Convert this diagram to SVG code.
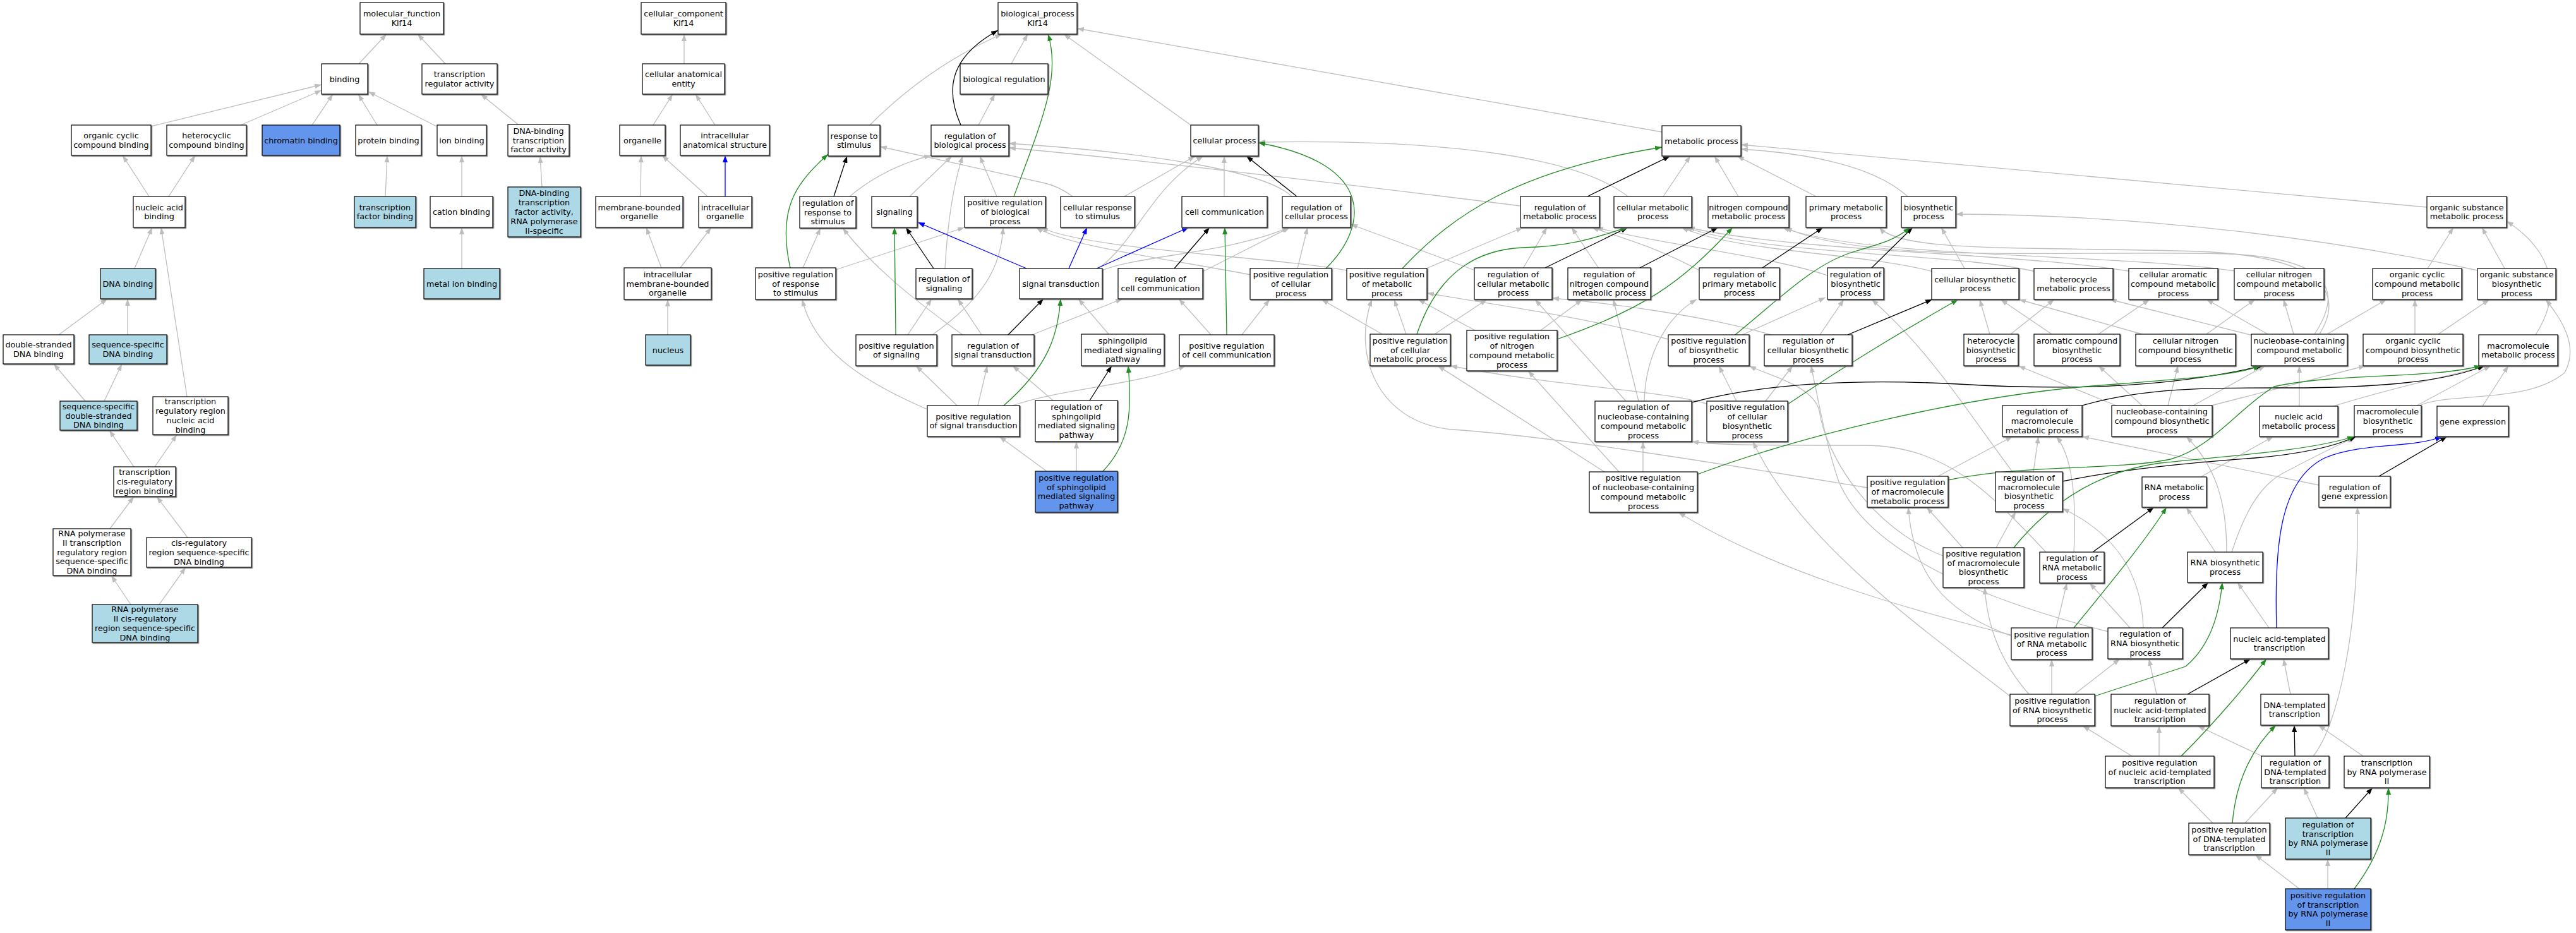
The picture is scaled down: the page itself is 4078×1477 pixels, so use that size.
<svg xmlns="http://www.w3.org/2000/svg" width="4078" height="1477" viewBox="0 0 4078 1477">
<defs>
<style>
text{font-family:"DejaVu Sans","Liberation Sans",sans-serif;font-size:12.8px;text-anchor:middle;fill:#000}
.n rect{fill:#fff;stroke:#000;stroke-width:1.2;filter:url(#sh)}
.n.lb rect{fill:#add8e6}
.n.bl rect{fill:#6495ed}
.e path{fill:none;stroke-width:1.3}
.g{stroke:#bebebe;marker-end:url(#mg)}
.k{stroke:#000;marker-end:url(#mk)}
.v{stroke:#228b22;marker-end:url(#mv)}
.b{stroke:#0000ff;marker-end:url(#mb)}
</style>
<filter id="sh" x="-5%" y="-5%" width="115%" height="120%"><feDropShadow dx="1.3" dy="1.3" stdDeviation="0" flood-color="#606060"/></filter>
<marker id="mg" viewBox="0 0 11 8" refX="11" refY="4" markerWidth="11" markerHeight="8" markerUnits="userSpaceOnUse" orient="auto"><path d="M0,0 L11,4 L0,8 z" fill="#bebebe"/></marker>
<marker id="mk" viewBox="0 0 11 8" refX="11" refY="4" markerWidth="11" markerHeight="8" markerUnits="userSpaceOnUse" orient="auto"><path d="M0,0 L11,4 L0,8 z" fill="#000"/></marker>
<marker id="mv" viewBox="0 0 11 8" refX="11" refY="4" markerWidth="11" markerHeight="8" markerUnits="userSpaceOnUse" orient="auto"><path d="M0,0 L11,4 L0,8 z" fill="#228b22"/></marker>
<marker id="mb" viewBox="0 0 11 8" refX="11" refY="4" markerWidth="11" markerHeight="8" markerUnits="userSpaceOnUse" orient="auto"><path d="M0,0 L11,4 L0,8 z" fill="#0000ff"/></marker>
</defs>
<rect x="0" y="0" width="4078" height="1477" fill="#fff"/>
<g id="edges" class="e">
<path class="g" d="M568,101 L612,54"/>
<path class="g" d="M705,101 L661,54"/>
<path class="g" d="M239,200 L509,134"/>
<path class="g" d="M381,198 L509,143"/>
<path class="g" d="M494,198 L527,149"/>
<path class="g" d="M597,198 L567,149"/>
<path class="g" d="M691,200 L583,145"/>
<path class="g" d="M820,197 L761,149"/>
<path class="g" d="M236,311 L194,246"/>
<path class="g" d="M267,311 L309,246"/>
<path class="g" d="M610,311 L613,246"/>
<path class="g" d="M731,311 L731,246"/>
<path class="g" d="M858,296 L855,247"/>
<path class="g" d="M213,425 L241,360"/>
<path class="g" d="M731,425 L731,360"/>
<path class="g" d="M296,628 L255,360"/>
<path class="g" d="M93,530 L170,473"/>
<path class="g" d="M202,530 L202,473"/>
<path class="g" d="M135,635 L85,576"/>
<path class="g" d="M165,635 L193,576"/>
<path class="g" d="M212,739 L173,681"/>
<path class="g" d="M245,739 L280,688"/>
<path class="g" d="M174,837 L212,786"/>
<path class="g" d="M297,851 L248,786"/>
<path class="g" d="M207,957 L176,911"/>
<path class="g" d="M252,957 L294,898"/>
<path class="g" d="M1083,101 L1083,54"/>
<path class="g" d="M1034,198 L1065,149"/>
<path class="g" d="M1132,198 L1101,149"/>
<path class="g" d="M1014,311 L1015,246"/>
<path class="g" d="M1120,311 L1048,246"/>
<path class="b" d="M1148,311 L1148,246"/>
<path class="g" d="M1047,424 L1023,360"/>
<path class="g" d="M1077,424 L1126,360"/>
<path class="g" d="M1057,530 L1057,474"/>
<path class="g" d="M1601,101 L1627,54"/>
<path class="g" d="M1549,198 L1575,149"/>
<path class="g" d="M1377,198 Q1470,105 1586,54"/>
<path class="g" d="M1885,198 L1684,54"/>
<path class="g" d="M2631,209 L1705,45"/>
<path class="g" d="M1345,311 Q1400,265 1474,246"/>
<path class="g" d="M1271,424 L1299,361"/>
<path class="g" d="M1323,427 L1527,360"/>
<path class="g" d="M1440,311 L1507,247"/>
<path class="g" d="M1496,425 C1500,350 1510,290 1524,247"/>
<path class="g" d="M1578,311 L1551,247"/>
<path class="g" d="M1698,311 Q1675,294 1650,289 L1393,232"/>
<path class="g" d="M2045,311 C2000,268 1800,240 1597,227"/>
<path class="g" d="M2407,326 C2200,300 1800,252 1597,234"/>
<path class="g" d="M2577,311 C2500,250 2300,220 1992,225"/>
<path class="g" d="M1780,311 L1892,247"/>
<path class="g" d="M1739,425 C1800,380 1820,300 1905,247"/>
<path class="g" d="M1938,311 L1938,247"/>
<path class="g" d="M1476,530 C1560,470 1585,420 1588,360"/>
<path class="g" d="M1980,435 C1850,410 1690,390 1640,360"/>
<path class="g" d="M2132,428 C2000,405 1720,395 1648,360"/>
<path class="g" d="M1745,428 C1800,405 1950,400 2040,360"/>
<path class="g" d="M1904,430 L2042,360"/>
<path class="g" d="M2054,425 L2070,360"/>
<path class="g" d="M1524,530 C1440,470 1380,420 1334,361"/>
<path class="g" d="M1437,530 L1475,473"/>
<path class="g" d="M1554,530 L1516,473"/>
<path class="g" d="M1756,530 L1707,473"/>
<path class="g" d="M1634,530 L1777,473"/>
<path class="g" d="M1917,530 L1866,473"/>
<path class="g" d="M1966,530 L2010,474"/>
<path class="g" d="M1515,642 L1450,579"/>
<path class="g" d="M1548,642 L1563,579"/>
<path class="g" d="M1603,642 C1680,615 1800,610 1877,579"/>
<path class="g" d="M1468,648 C1380,610 1290,560 1270,474"/>
<path class="g" d="M1657,746 L1582,691"/>
<path class="g" d="M1704,746 L1704,699"/>
<path class="g" d="M1667,634 L1603,579"/>
<path class="g" d="M2335,428 L2138,355"/>
<path class="g" d="M2633,311 L2676,247"/>
<path class="g" d="M2752,311 L2714,247"/>
<path class="g" d="M2875,311 L2750,247"/>
<path class="g" d="M3020,311 C2980,275 2900,245 2756,236"/>
<path class="g" d="M3842,328 L2756,229"/>
<path class="g" d="M2411,425 L2449,360"/>
<path class="g" d="M2258,425 L2411,360"/>
<path class="g" d="M2531,425 L2488,360"/>
<path class="g" d="M2690,428 C2620,390 2570,378 2520,360"/>
<path class="g" d="M2893,436 C2800,405 2620,385 2527,360"/>
<path class="g" d="M3060,430 C2950,400 2750,400 2662,360"/>
<path class="g" d="M3222,430 C3100,400 2800,405 2668,360"/>
<path class="g" d="M3375,430 C3200,400 2850,400 2672,360"/>
<path class="g" d="M3545,430 C3350,400 2950,410 2822,360"/>
<path class="g" d="M3664,529 C3710,460 3690,410 3530,402 C3300,395 2950,420 2826,360"/>
<path class="g" d="M3672,529 C3720,450 3650,405 3480,398 C3200,390 3010,400 2975,360"/>
<path class="g" d="M2271,529 L2354,474"/>
<path class="g" d="M2226,529 L2207,474"/>
<path class="g" d="M2188,529 L2092,474"/>
<path class="g" d="M2439,523 L2505,474"/>
<path class="g" d="M2335,523 L2245,474"/>
<path class="g" d="M2594,635 L2554,474"/>
<path class="g" d="M2574,635 L2430,474"/>
<path class="g" d="M2603,635 C2605,560 2640,500 2686,474"/>
<path class="g" d="M2758,530 L2890,471"/>
<path class="g" d="M2641,537 C2500,500 2350,480 2259,464"/>
<path class="g" d="M2881,530 L2919,474"/>
<path class="g" d="M2804,530 C2700,500 2550,480 2457,472"/>
<path class="g" d="M2749,635 L2721,579"/>
<path class="g" d="M2795,635 L2838,579"/>
<path class="g" d="M2703,640 C2650,620 2450,610 2296,579"/>
<path class="g" d="M2601,747 L2601,699"/>
<path class="g" d="M2563,747 L2419,587"/>
<path class="g" d="M2540,747 L2276,579"/>
<path class="g" d="M2956,772 C2700,730 2450,690 2300,680 C2180,670 2140,560 2172,474"/>
<path class="g" d="M3068,754 L3186,691"/>
<path class="g" d="M3219,747 L3227,691"/>
<path class="g" d="M3186,747 C3120,660 3060,560 2963,474"/>
<path class="g" d="M3107,867 L3050,803"/>
<path class="g" d="M3160,867 L3191,810"/>
<path class="g" d="M3076,880 C2960,835 2890,720 2880,650 C2870,610 2800,595 2769,579"/>
<path class="g" d="M3283,874 C3288,790 3280,720 3255,691"/>
<path class="g" d="M3239,874 C3150,780 3080,705 2950,705 C2800,705 2720,705 2678,699"/>
<path class="g" d="M3255,994 L3272,923"/>
<path class="g" d="M3184,1007 C3100,975 3030,930 3021,803"/>
<path class="g" d="M3183,1005 C3000,960 2800,900 2657,811"/>
<path class="g" d="M3484,755 L3599,691"/>
<path class="g" d="M3507,874 L3461,803"/>
<path class="g" d="M3525,874 C3525,800 3510,740 3461,691"/>
<path class="g" d="M3533,874 C3560,790 3590,760 3620,746 C3660,725 3700,705 3727,693"/>
<path class="g" d="M3372,994 L3308,923"/>
<path class="g" d="M3393,994 C3390,900 3340,840 3265,805"/>
<path class="g" d="M3338,1000 C3100,940 2950,860 2910,760 C2890,700 2880,640 2867,579"/>
<path class="g" d="M3248,1099 L3248,1044"/>
<path class="g" d="M3284,1099 L3356,1043"/>
<path class="g" d="M3212,1099 C3160,1040 3145,980 3142,930"/>
<path class="g" d="M3182,1102 C3050,1000 2850,860 2775,699"/>
<path class="g" d="M3414,1099 L3402,1043"/>
<path class="g" d="M3375,1197 L3297,1149"/>
<path class="g" d="M3418,1197 L3418,1149"/>
<path class="g" d="M3626,1099 L3615,1043"/>
<path class="g" d="M3581,1197 L3479,1149"/>
<path class="g" d="M3662,1197 C3700,1150 3735,1000 3732,803"/>
<path class="g" d="M3741,1197 L3670,1148"/>
<path class="g" d="M3503,1303 L3448,1247"/>
<path class="g" d="M3554,1303 L3606,1247"/>
<path class="g" d="M3669,1295 L3647,1247"/>
<path class="g" d="M3640,1407 L3570,1353"/>
<path class="g" d="M3685,1407 L3685,1360"/>
<path class="g" d="M3592,994 L3542,922"/>
<path class="g" d="M3671,768 L3296,691"/>
<path class="g" d="M3930,643 L3971,579"/>
<path class="g" d="M3826,642 L3943,579"/>
<path class="g" d="M3830,642 C3880,620 4000,640 4060,590 C4085,545 4050,500 4030,474"/>
<path class="g" d="M3694,643 C3800,610 3900,590 3935,579"/>
<path class="g" d="M3640,643 L3640,579"/>
<path class="g" d="M3350,642 L3195,579"/>
<path class="g" d="M3391,642 L3322,579"/>
<path class="g" d="M3432,642 L3448,579"/>
<path class="g" d="M3472,642 L3586,579"/>
<path class="g" d="M3501,642 L3745,579"/>
<path class="g" d="M3566,531 L3340,474"/>
<path class="g" d="M3590,529 L3493,474"/>
<path class="g" d="M3631,529 L3615,474"/>
<path class="g" d="M3684,529 L3778,474"/>
<path class="g" d="M3183,529 L3252,474"/>
<path class="g" d="M3150,529 L3134,474"/>
<path class="g" d="M3248,529 L3167,474"/>
<path class="g" d="M3322,529 L3403,474"/>
<path class="g" d="M3391,529 L3196,474"/>
<path class="g" d="M3493,529 L3570,474"/>
<path class="g" d="M3823,529 L3823,474"/>
<path class="g" d="M3860,529 L3941,474"/>
<path class="g" d="M4014,530 C4055,466 4045,400 3968,350"/>
<path class="g" d="M3843,425 L3884,360"/>
<path class="g" d="M3965,425 L3929,360"/>
<path class="g" d="M3922,428 C3700,380 3400,340 3096,339"/>
<path class="g" d="M3110,425 L3073,360"/>
<path class="k" d="M1521,198 C1500,150 1495,95 1580,48"/>
<path class="k" d="M1320,311 L1341,247"/>
<path class="k" d="M2053,311 L1973,247"/>
<path class="k" d="M1478,425 L1434,360"/>
<path class="k" d="M1859,425 L1915,360"/>
<path class="k" d="M1596,530 L1652,473"/>
<path class="k" d="M1725,634 L1760,579"/>
<path class="k" d="M2513,311 L2644,247"/>
<path class="k" d="M2446,424 L2577,360"/>
<path class="k" d="M2596,424 L2720,360"/>
<path class="k" d="M2790,424 L2886,360"/>
<path class="k" d="M2963,424 L3028,360"/>
<path class="k" d="M2925,530 L3059,474"/>
<path class="k" d="M2678,637 C2800,605 2950,600 3100,608 C3300,620 3450,610 3582,579"/>
<path class="k" d="M3296,642 C3400,612 3500,614 3650,614 C3800,612 3880,600 3933,579"/>
<path class="k" d="M3265,762 C3360,742 3500,730 3570,725 C3650,718 3700,705 3730,691"/>
<path class="k" d="M3313,874 L3410,803"/>
<path class="k" d="M3423,994 L3496,922"/>
<path class="k" d="M3463,1099 L3563,1043"/>
<path class="k" d="M3633,1197 L3632,1148"/>
<path class="k" d="M3713,1295 L3756,1247"/>
<path class="k" d="M3766,754 L3874,691"/>
<path class="v" d="M1605,311 C1650,190 1680,120 1659,54"/>
<path class="v" d="M1251,424 C1230,330 1260,290 1311,244"/>
<path class="v" d="M2099,425 C2165,360 2180,260 1992,226"/>
<path class="v" d="M1418,530 L1416,360"/>
<path class="v" d="M1942,530 L1939,360"/>
<path class="v" d="M1589,642 C1660,580 1675,530 1679,473"/>
<path class="v" d="M1746,746 C1790,700 1792,650 1786,579"/>
<path class="v" d="M2220,425 C2300,340 2400,270 2631,233"/>
<path class="v" d="M2243,529 C2280,420 2350,395 2410,392 C2500,390 2540,370 2577,360"/>
<path class="v" d="M2465,537 C2600,490 2660,450 2743,360"/>
<path class="v" d="M2747,530 C2820,470 2870,420 2930,400 C2980,385 3000,380 3024,360"/>
<path class="v" d="M2830,640 C2950,560 3020,520 3100,474"/>
<path class="v" d="M2687,751 C2850,690 3100,630 3300,612 C3450,600 3540,595 3578,579"/>
<path class="v" d="M3084,760 C3200,735 3350,745 3436,727 C3500,710 3540,650 3600,612 C3700,590 3850,600 3928,579"/>
<path class="v" d="M3188,867 C3250,790 3330,745 3420,733 C3520,722 3650,715 3727,691"/>
<path class="v" d="M3283,994 C3360,900 3400,850 3430,803"/>
<path class="v" d="M3316,1102 L3460,1055 C3490,1030 3512,990 3518,922"/>
<path class="v" d="M3453,1197 C3510,1140 3560,1080 3588,1043"/>
<path class="v" d="M3534,1303 C3540,1230 3570,1180 3603,1148"/>
<path class="v" d="M3727,1407 C3770,1350 3782,1300 3781,1247"/>
<path class="b" d="M1625,425 L1453,352"/>
<path class="b" d="M1692,425 L1721,360"/>
<path class="b" d="M1736,425 L1882,360"/>
<path class="b" d="M3604,994 C3600,860 3610,760 3680,725 C3740,700 3820,710 3866,691"/>
</g>
<g id="nodes">
<g id="n_mf" class="n"><rect x="570" y="4" width="132" height="50"/><text x="636" y="26.1"><tspan x="636">molecular_function</tspan><tspan x="636" dy="14.8">Klf14</tspan></text></g>
<g id="n_binding" class="n"><rect x="509" y="101" width="73" height="48"/><text x="545.5" y="129.5">binding</text></g>
<g id="n_tra" class="n"><rect x="668" y="101" width="119" height="48"/><text x="727.5" y="122.1"><tspan x="727.5">transcription</tspan><tspan x="727.5" dy="14.8">regulator activity</tspan></text></g>
<g id="n_occb" class="n"><rect x="113" y="198" width="126" height="48"/><text x="176" y="219.1"><tspan x="176">organic cyclic</tspan><tspan x="176" dy="14.8">compound binding</tspan></text></g>
<g id="n_hcb" class="n"><rect x="264" y="198" width="126" height="48"/><text x="327" y="219.1"><tspan x="327">heterocyclic</tspan><tspan x="327" dy="14.8">compound binding</tspan></text></g>
<g id="n_chb" class="n bl"><rect x="415" y="198" width="123" height="48"/><text x="476.5" y="226.5">chromatin binding</text></g>
<g id="n_pb" class="n"><rect x="563" y="198" width="104" height="48"/><text x="615" y="226.5">protein binding</text></g>
<g id="n_ib" class="n"><rect x="692" y="198" width="78" height="48"/><text x="731" y="226.5">ion binding</text></g>
<g id="n_dbtf" class="n"><rect x="804" y="197" width="97" height="50"/><text x="852.5" y="211.7"><tspan x="852.5">DNA-binding</tspan><tspan x="852.5" dy="14.8">transcription</tspan><tspan x="852.5" dy="14.8">factor activity</tspan></text></g>
<g id="n_nab" class="n"><rect x="211" y="311" width="82" height="49"/><text x="252" y="332.6"><tspan x="252">nucleic acid</tspan><tspan x="252" dy="14.8">binding</tspan></text></g>
<g id="n_tfb" class="n lb"><rect x="561" y="311" width="97" height="49"/><text x="609.5" y="332.6"><tspan x="609.5">transcription</tspan><tspan x="609.5" dy="14.8">factor binding</tspan></text></g>
<g id="n_cb" class="n"><rect x="681" y="311" width="99" height="49"/><text x="730.5" y="340">cation binding</text></g>
<g id="n_dbtf2" class="n lb"><rect x="804" y="296" width="115" height="79"/><text x="861.5" y="310.4"><tspan x="861.5">DNA-binding</tspan><tspan x="861.5" dy="14.8">transcription</tspan><tspan x="861.5" dy="14.8">factor activity,</tspan><tspan x="861.5" dy="14.8">RNA polymerase</tspan><tspan x="861.5" dy="14.8">II-specific</tspan></text></g>
<g id="n_dnab" class="n lb"><rect x="159" y="425" width="87" height="48"/><text x="202.5" y="453.5">DNA binding</text></g>
<g id="n_mib" class="n lb"><rect x="671" y="425" width="120" height="48"/><text x="731" y="453.5">metal ion binding</text></g>
<g id="n_dsdb" class="n"><rect x="5" y="530" width="112" height="46"/><text x="61" y="550.1"><tspan x="61">double-stranded</tspan><tspan x="61" dy="14.8">DNA binding</tspan></text></g>
<g id="n_ssdb" class="n lb"><rect x="141" y="530" width="123" height="46"/><text x="202.5" y="550.1"><tspan x="202.5">sequence-specific</tspan><tspan x="202.5" dy="14.8">DNA binding</tspan></text></g>
<g id="n_ssdsdb" class="n lb"><rect x="95" y="635" width="122" height="46"/><text x="156" y="647.7"><tspan x="156">sequence-specific</tspan><tspan x="156" dy="14.8">double-stranded</tspan><tspan x="156" dy="14.8">DNA binding</tspan></text></g>
<g id="n_trrnab" class="n"><rect x="242" y="628" width="119" height="60"/><text x="301.5" y="640.3"><tspan x="301.5">transcription</tspan><tspan x="301.5" dy="14.8">regulatory region</tspan><tspan x="301.5" dy="14.8">nucleic acid</tspan><tspan x="301.5" dy="14.8">binding</tspan></text></g>
<g id="n_tcrrb" class="n"><rect x="180" y="739" width="98" height="47"/><text x="229" y="752.2"><tspan x="229">transcription</tspan><tspan x="229" dy="14.8">cis-regulatory</tspan><tspan x="229" dy="14.8">region binding</tspan></text></g>
<g id="n_rnap2trr" class="n"><rect x="84" y="837" width="123" height="74"/><text x="145.5" y="848.9"><tspan x="145.5">RNA polymerase</tspan><tspan x="145.5" dy="14.8">II transcription</tspan><tspan x="145.5" dy="14.8">regulatory region</tspan><tspan x="145.5" dy="14.8">sequence-specific</tspan><tspan x="145.5" dy="14.8">DNA binding</tspan></text></g>
<g id="n_crrssdb" class="n"><rect x="232" y="851" width="166" height="47"/><text x="315" y="864.2"><tspan x="315">cis-regulatory</tspan><tspan x="315" dy="14.8">region sequence-specific</tspan><tspan x="315" dy="14.8">DNA binding</tspan></text></g>
<g id="n_rnap2crr" class="n lb"><rect x="146" y="957" width="167" height="60"/><text x="229.5" y="969.3"><tspan x="229.5">RNA polymerase</tspan><tspan x="229.5" dy="14.8">II cis-regulatory</tspan><tspan x="229.5" dy="14.8">region sequence-specific</tspan><tspan x="229.5" dy="14.8">DNA binding</tspan></text></g>
<g id="n_cc" class="n"><rect x="1015" y="4" width="134" height="50"/><text x="1082" y="26.1"><tspan x="1082">cellular_component</tspan><tspan x="1082" dy="14.8">Klf14</tspan></text></g>
<g id="n_cae" class="n"><rect x="1017" y="101" width="130" height="48"/><text x="1082" y="122.1"><tspan x="1082">cellular anatomical</tspan><tspan x="1082" dy="14.8">entity</tspan></text></g>
<g id="n_org" class="n"><rect x="981" y="198" width="72" height="48"/><text x="1017" y="226.5">organelle</text></g>
<g id="n_ias" class="n"><rect x="1077" y="198" width="141" height="48"/><text x="1147.5" y="219.1"><tspan x="1147.5">intracellular</tspan><tspan x="1147.5" dy="14.8">anatomical structure</tspan></text></g>
<g id="n_mbo" class="n"><rect x="943" y="311" width="138" height="49"/><text x="1012" y="332.6"><tspan x="1012">membrane-bounded</tspan><tspan x="1012" dy="14.8">organelle</tspan></text></g>
<g id="n_io" class="n"><rect x="1106" y="311" width="84" height="49"/><text x="1148" y="332.6"><tspan x="1148">intracellular</tspan><tspan x="1148" dy="14.8">organelle</tspan></text></g>
<g id="n_imbo" class="n"><rect x="988" y="424" width="138" height="50"/><text x="1057" y="438.7"><tspan x="1057">intracellular</tspan><tspan x="1057" dy="14.8">membrane-bounded</tspan><tspan x="1057" dy="14.8">organelle</tspan></text></g>
<g id="n_nuc" class="n lb"><rect x="1022" y="530" width="71" height="48"/><text x="1057.5" y="558.5">nucleus</text></g>
<g id="n_bp" class="n"><rect x="1580" y="4" width="125" height="50"/><text x="1642.5" y="26.1"><tspan x="1642.5">biological_process</tspan><tspan x="1642.5" dy="14.8">Klf14</tspan></text></g>
<g id="n_breg" class="n"><rect x="1520" y="101" width="139" height="48"/><text x="1589.5" y="129.5">biological regulation</text></g>
<g id="n_rts" class="n"><rect x="1311" y="198" width="82" height="49"/><text x="1352" y="219.6"><tspan x="1352">response to</tspan><tspan x="1352" dy="14.8">stimulus</tspan></text></g>
<g id="n_rbp" class="n"><rect x="1474" y="198" width="123" height="49"/><text x="1535.5" y="219.6"><tspan x="1535.5">regulation of</tspan><tspan x="1535.5" dy="14.8">biological process</tspan></text></g>
<g id="n_cp" class="n"><rect x="1885" y="198" width="107" height="49"/><text x="1938.5" y="227">cellular process</text></g>
<g id="n_mp" class="n"><rect x="2631" y="199" width="125" height="48"/><text x="2693.5" y="227.5">metabolic process</text></g>
<g id="n_rrts" class="n"><rect x="1266" y="311" width="89" height="50"/><text x="1310.5" y="325.7"><tspan x="1310.5">regulation of</tspan><tspan x="1310.5" dy="14.8">response to</tspan><tspan x="1310.5" dy="14.8">stimulus</tspan></text></g>
<g id="n_sig" class="n"><rect x="1380" y="311" width="72" height="49"/><text x="1416" y="340">signaling</text></g>
<g id="n_prbp" class="n"><rect x="1527" y="311" width="128" height="49"/><text x="1591" y="325.2"><tspan x="1591">positive regulation</tspan><tspan x="1591" dy="14.8">of biological</tspan><tspan x="1591" dy="14.8">process</tspan></text></g>
<g id="n_crts" class="n"><rect x="1679" y="311" width="117" height="49"/><text x="1737.5" y="332.6"><tspan x="1737.5">cellular response</tspan><tspan x="1737.5" dy="14.8">to stimulus</tspan></text></g>
<g id="n_ccom" class="n"><rect x="1871" y="311" width="135" height="49"/><text x="1938.5" y="340">cell communication</text></g>
<g id="n_rcp" class="n"><rect x="2030" y="311" width="108" height="49"/><text x="2084" y="332.6"><tspan x="2084">regulation of</tspan><tspan x="2084" dy="14.8">cellular process</tspan></text></g>
<g id="n_rmp" class="n"><rect x="2407" y="311" width="125" height="49"/><text x="2469.5" y="332.6"><tspan x="2469.5">regulation of</tspan><tspan x="2469.5" dy="14.8">metabolic process</tspan></text></g>
<g id="n_cmp" class="n"><rect x="2555" y="311" width="123" height="49"/><text x="2616.5" y="332.6"><tspan x="2616.5">cellular metabolic</tspan><tspan x="2616.5" dy="14.8">process</tspan></text></g>
<g id="n_ncmp" class="n"><rect x="2704" y="311" width="128" height="49"/><text x="2768" y="332.6"><tspan x="2768">nitrogen compound</tspan><tspan x="2768" dy="14.8">metabolic process</tspan></text></g>
<g id="n_pmp" class="n"><rect x="2859" y="311" width="127" height="49"/><text x="2922.5" y="332.6"><tspan x="2922.5">primary metabolic</tspan><tspan x="2922.5" dy="14.8">process</tspan></text></g>
<g id="n_bsp" class="n"><rect x="3010" y="311" width="86" height="49"/><text x="3053" y="332.6"><tspan x="3053">biosynthetic</tspan><tspan x="3053" dy="14.8">process</tspan></text></g>
<g id="n_osmp" class="n"><rect x="3842" y="311" width="126" height="49"/><text x="3905" y="332.6"><tspan x="3905">organic substance</tspan><tspan x="3905" dy="14.8">metabolic process</tspan></text></g>
<g id="n_prrts" class="n"><rect x="1196" y="424" width="127" height="50"/><text x="1259.5" y="438.7"><tspan x="1259.5">positive regulation</tspan><tspan x="1259.5" dy="14.8">of response</tspan><tspan x="1259.5" dy="14.8">to stimulus</tspan></text></g>
<g id="n_rsig" class="n"><rect x="1450" y="425" width="89" height="48"/><text x="1494.5" y="446.1"><tspan x="1494.5">regulation of</tspan><tspan x="1494.5" dy="14.8">signaling</tspan></text></g>
<g id="n_st" class="n"><rect x="1614" y="425" width="131" height="48"/><text x="1679.5" y="453.5">signal transduction</text></g>
<g id="n_rcc" class="n"><rect x="1770" y="425" width="134" height="48"/><text x="1837" y="446.1"><tspan x="1837">regulation of</tspan><tspan x="1837" dy="14.8">cell communication</tspan></text></g>
<g id="n_prcp" class="n"><rect x="1979" y="425" width="129" height="49"/><text x="2043.5" y="439.2"><tspan x="2043.5">positive regulation</tspan><tspan x="2043.5" dy="14.8">of cellular</tspan><tspan x="2043.5" dy="14.8">process</tspan></text></g>
<g id="n_prmp" class="n"><rect x="2132" y="425" width="127" height="49"/><text x="2195.5" y="439.2"><tspan x="2195.5">positive regulation</tspan><tspan x="2195.5" dy="14.8">of metabolic</tspan><tspan x="2195.5" dy="14.8">process</tspan></text></g>
<g id="n_rcmp" class="n"><rect x="2334" y="424" width="123" height="50"/><text x="2395.5" y="438.7"><tspan x="2395.5">regulation of</tspan><tspan x="2395.5" dy="14.8">cellular metabolic</tspan><tspan x="2395.5" dy="14.8">process</tspan></text></g>
<g id="n_rncmp" class="n"><rect x="2482" y="424" width="131" height="50"/><text x="2547.5" y="438.7"><tspan x="2547.5">regulation of</tspan><tspan x="2547.5" dy="14.8">nitrogen compound</tspan><tspan x="2547.5" dy="14.8">metabolic process</tspan></text></g>
<g id="n_rpmp" class="n"><rect x="2690" y="424" width="127" height="50"/><text x="2753.5" y="438.7"><tspan x="2753.5">regulation of</tspan><tspan x="2753.5" dy="14.8">primary metabolic</tspan><tspan x="2753.5" dy="14.8">process</tspan></text></g>
<g id="n_rbsp" class="n"><rect x="2893" y="424" width="89" height="50"/><text x="2937.5" y="438.7"><tspan x="2937.5">regulation of</tspan><tspan x="2937.5" dy="14.8">biosynthetic</tspan><tspan x="2937.5" dy="14.8">process</tspan></text></g>
<g id="n_cbsp" class="n"><rect x="3058" y="425" width="138" height="49"/><text x="3127" y="446.6"><tspan x="3127">cellular biosynthetic</tspan><tspan x="3127" dy="14.8">process</tspan></text></g>
<g id="n_hmp" class="n"><rect x="3220" y="425" width="125" height="49"/><text x="3282.5" y="446.6"><tspan x="3282.5">heterocycle</tspan><tspan x="3282.5" dy="14.8">metabolic process</tspan></text></g>
<g id="n_camp" class="n"><rect x="3370" y="425" width="141" height="49"/><text x="3440.5" y="439.2"><tspan x="3440.5">cellular aromatic</tspan><tspan x="3440.5" dy="14.8">compound metabolic</tspan><tspan x="3440.5" dy="14.8">process</tspan></text></g>
<g id="n_cnmp" class="n"><rect x="3537" y="425" width="142" height="49"/><text x="3608" y="439.2"><tspan x="3608">cellular nitrogen</tspan><tspan x="3608" dy="14.8">compound metabolic</tspan><tspan x="3608" dy="14.8">process</tspan></text></g>
<g id="n_occmp" class="n"><rect x="3756" y="425" width="141" height="49"/><text x="3826.5" y="439.2"><tspan x="3826.5">organic cyclic</tspan><tspan x="3826.5" dy="14.8">compound metabolic</tspan><tspan x="3826.5" dy="14.8">process</tspan></text></g>
<g id="n_osbp" class="n"><rect x="3922" y="425" width="124" height="49"/><text x="3984" y="439.2"><tspan x="3984">organic substance</tspan><tspan x="3984" dy="14.8">biosynthetic</tspan><tspan x="3984" dy="14.8">process</tspan></text></g>
<g id="n_prsig" class="n"><rect x="1355" y="530" width="128" height="49"/><text x="1419" y="551.6"><tspan x="1419">positive regulation</tspan><tspan x="1419" dy="14.8">of signaling</tspan></text></g>
<g id="n_rst" class="n"><rect x="1507" y="530" width="130" height="49"/><text x="1572" y="551.6"><tspan x="1572">regulation of</tspan><tspan x="1572" dy="14.8">signal transduction</tspan></text></g>
<g id="n_smsp" class="n"><rect x="1712" y="529" width="131" height="50"/><text x="1777.5" y="543.7"><tspan x="1777.5">sphingolipid</tspan><tspan x="1777.5" dy="14.8">mediated signaling</tspan><tspan x="1777.5" dy="14.8">pathway</tspan></text></g>
<g id="n_prcc" class="n"><rect x="1867" y="530" width="150" height="49"/><text x="1942" y="551.6"><tspan x="1942">positive regulation</tspan><tspan x="1942" dy="14.8">of cell communication</tspan></text></g>
<g id="n_prcmp" class="n"><rect x="2169" y="529" width="127" height="50"/><text x="2232.5" y="543.7"><tspan x="2232.5">positive regulation</tspan><tspan x="2232.5" dy="14.8">of cellular</tspan><tspan x="2232.5" dy="14.8">metabolic process</tspan></text></g>
<g id="n_prncmp" class="n"><rect x="2322" y="523" width="143" height="64"/><text x="2393.5" y="537.3"><tspan x="2393.5">positive regulation</tspan><tspan x="2393.5" dy="14.8">of nitrogen</tspan><tspan x="2393.5" dy="14.8">compound metabolic</tspan><tspan x="2393.5" dy="14.8">process</tspan></text></g>
<g id="n_prbsp" class="n"><rect x="2641" y="530" width="128" height="49"/><text x="2705" y="544.2"><tspan x="2705">positive regulation</tspan><tspan x="2705" dy="14.8">of biosynthetic</tspan><tspan x="2705" dy="14.8">process</tspan></text></g>
<g id="n_rcbsp" class="n"><rect x="2793" y="530" width="139" height="49"/><text x="2862.5" y="544.2"><tspan x="2862.5">regulation of</tspan><tspan x="2862.5" dy="14.8">cellular biosynthetic</tspan><tspan x="2862.5" dy="14.8">process</tspan></text></g>
<g id="n_hbsp" class="n"><rect x="3109" y="529" width="86" height="50"/><text x="3152" y="543.7"><tspan x="3152">heterocycle</tspan><tspan x="3152" dy="14.8">biosynthetic</tspan><tspan x="3152" dy="14.8">process</tspan></text></g>
<g id="n_acbsp" class="n"><rect x="3220" y="529" width="136" height="50"/><text x="3288" y="543.7"><tspan x="3288">aromatic compound</tspan><tspan x="3288" dy="14.8">biosynthetic</tspan><tspan x="3288" dy="14.8">process</tspan></text></g>
<g id="n_cnbsp" class="n"><rect x="3381" y="529" width="158" height="50"/><text x="3460" y="543.7"><tspan x="3460">cellular nitrogen</tspan><tspan x="3460" dy="14.8">compound biosynthetic</tspan><tspan x="3460" dy="14.8">process</tspan></text></g>
<g id="n_nccmp" class="n"><rect x="3564" y="529" width="152" height="50"/><text x="3640" y="543.7"><tspan x="3640">nucleobase-containing</tspan><tspan x="3640" dy="14.8">compound metabolic</tspan><tspan x="3640" dy="14.8">process</tspan></text></g>
<g id="n_occbsp" class="n"><rect x="3741" y="529" width="158" height="50"/><text x="3820" y="543.7"><tspan x="3820">organic cyclic</tspan><tspan x="3820" dy="14.8">compound biosynthetic</tspan><tspan x="3820" dy="14.8">process</tspan></text></g>
<g id="n_mmp" class="n"><rect x="3924" y="530" width="125" height="49"/><text x="3986.5" y="551.6"><tspan x="3986.5">macromolecule</tspan><tspan x="3986.5" dy="14.8">metabolic process</tspan></text></g>
<g id="n_prst" class="n"><rect x="1468" y="642" width="146" height="49"/><text x="1541" y="663.6"><tspan x="1541">positive regulation</tspan><tspan x="1541" dy="14.8">of signal transduction</tspan></text></g>
<g id="n_rsmsp" class="n"><rect x="1639" y="634" width="130" height="65"/><text x="1704" y="648.8"><tspan x="1704">regulation of</tspan><tspan x="1704" dy="14.8">sphingolipid</tspan><tspan x="1704" dy="14.8">mediated signaling</tspan><tspan x="1704" dy="14.8">pathway</tspan></text></g>
<g id="n_rnccmp" class="n"><rect x="2525" y="635" width="153" height="64"/><text x="2601.5" y="649.3"><tspan x="2601.5">regulation of</tspan><tspan x="2601.5" dy="14.8">nucleobase-containing</tspan><tspan x="2601.5" dy="14.8">compound metabolic</tspan><tspan x="2601.5" dy="14.8">process</tspan></text></g>
<g id="n_prcbsp" class="n"><rect x="2702" y="635" width="128" height="64"/><text x="2766" y="649.3"><tspan x="2766">positive regulation</tspan><tspan x="2766" dy="14.8">of cellular</tspan><tspan x="2766" dy="14.8">biosynthetic</tspan><tspan x="2766" dy="14.8">process</tspan></text></g>
<g id="n_rmmp" class="n"><rect x="3170" y="642" width="126" height="49"/><text x="3233" y="656.2"><tspan x="3233">regulation of</tspan><tspan x="3233" dy="14.8">macromolecule</tspan><tspan x="3233" dy="14.8">metabolic process</tspan></text></g>
<g id="n_ncbsp" class="n"><rect x="3343" y="642" width="159" height="49"/><text x="3422.5" y="656.2"><tspan x="3422.5">nucleobase-containing</tspan><tspan x="3422.5" dy="14.8">compound biosynthetic</tspan><tspan x="3422.5" dy="14.8">process</tspan></text></g>
<g id="n_namp" class="n"><rect x="3577" y="643" width="124" height="48"/><text x="3639" y="664.1"><tspan x="3639">nucleic acid</tspan><tspan x="3639" dy="14.8">metabolic process</tspan></text></g>
<g id="n_mbsp" class="n"><rect x="3727" y="642" width="106" height="49"/><text x="3780" y="656.2"><tspan x="3780">macromolecule</tspan><tspan x="3780" dy="14.8">biosynthetic</tspan><tspan x="3780" dy="14.8">process</tspan></text></g>
<g id="n_ge" class="n"><rect x="3858" y="643" width="113" height="48"/><text x="3914.5" y="671.5">gene expression</text></g>
<g id="n_prsmsp" class="n bl"><rect x="1639" y="746" width="130" height="65"/><text x="1704" y="760.8"><tspan x="1704">positive regulation</tspan><tspan x="1704" dy="14.8">of sphingolipid</tspan><tspan x="1704" dy="14.8">mediated signaling</tspan><tspan x="1704" dy="14.8">pathway</tspan></text></g>
<g id="n_prnccmp" class="n"><rect x="2516" y="747" width="171" height="64"/><text x="2601.5" y="761.3"><tspan x="2601.5">positive regulation</tspan><tspan x="2601.5" dy="14.8">of nucleobase-containing</tspan><tspan x="2601.5" dy="14.8">compound metabolic</tspan><tspan x="2601.5" dy="14.8">process</tspan></text></g>
<g id="n_prmmp" class="n"><rect x="2956" y="754" width="128" height="49"/><text x="3020" y="768.2"><tspan x="3020">positive regulation</tspan><tspan x="3020" dy="14.8">of macromolecule</tspan><tspan x="3020" dy="14.8">metabolic process</tspan></text></g>
<g id="n_rmbsp" class="n"><rect x="3159" y="747" width="106" height="63"/><text x="3212" y="760.8"><tspan x="3212">regulation of</tspan><tspan x="3212" dy="14.8">macromolecule</tspan><tspan x="3212" dy="14.8">biosynthetic</tspan><tspan x="3212" dy="14.8">process</tspan></text></g>
<g id="n_rnamp" class="n"><rect x="3391" y="755" width="102" height="48"/><text x="3442" y="776.1"><tspan x="3442">RNA metabolic</tspan><tspan x="3442" dy="14.8">process</tspan></text></g>
<g id="n_rge" class="n"><rect x="3671" y="754" width="113" height="49"/><text x="3727.5" y="775.6"><tspan x="3727.5">regulation of</tspan><tspan x="3727.5" dy="14.8">gene expression</tspan></text></g>
<g id="n_prmbsp" class="n"><rect x="3076" y="867" width="128" height="63"/><text x="3140" y="880.8"><tspan x="3140">positive regulation</tspan><tspan x="3140" dy="14.8">of macromolecule</tspan><tspan x="3140" dy="14.8">biosynthetic</tspan><tspan x="3140" dy="14.8">process</tspan></text></g>
<g id="n_rrnamp" class="n"><rect x="3229" y="874" width="102" height="49"/><text x="3280" y="888.2"><tspan x="3280">regulation of</tspan><tspan x="3280" dy="14.8">RNA metabolic</tspan><tspan x="3280" dy="14.8">process</tspan></text></g>
<g id="n_rnabsp" class="n"><rect x="3463" y="874" width="119" height="48"/><text x="3522.5" y="895.1"><tspan x="3522.5">RNA biosynthetic</tspan><tspan x="3522.5" dy="14.8">process</tspan></text></g>
<g id="n_prrnamp" class="n"><rect x="3184" y="994" width="128" height="50"/><text x="3248" y="1008.7"><tspan x="3248">positive regulation</tspan><tspan x="3248" dy="14.8">of RNA metabolic</tspan><tspan x="3248" dy="14.8">process</tspan></text></g>
<g id="n_rrnabsp" class="n"><rect x="3337" y="994" width="118" height="49"/><text x="3396" y="1008.2"><tspan x="3396">regulation of</tspan><tspan x="3396" dy="14.8">RNA biosynthetic</tspan><tspan x="3396" dy="14.8">process</tspan></text></g>
<g id="n_natt" class="n"><rect x="3531" y="994" width="155" height="49"/><text x="3608.5" y="1015.6"><tspan x="3608.5">nucleic acid-templated</tspan><tspan x="3608.5" dy="14.8">transcription</tspan></text></g>
<g id="n_prrnabsp" class="n"><rect x="3182" y="1099" width="134" height="50"/><text x="3249" y="1113.7"><tspan x="3249">positive regulation</tspan><tspan x="3249" dy="14.8">of RNA biosynthetic</tspan><tspan x="3249" dy="14.8">process</tspan></text></g>
<g id="n_rnatt" class="n"><rect x="3342" y="1099" width="155" height="50"/><text x="3419.5" y="1113.7"><tspan x="3419.5">regulation of</tspan><tspan x="3419.5" dy="14.8">nucleic acid-templated</tspan><tspan x="3419.5" dy="14.8">transcription</tspan></text></g>
<g id="n_dtt" class="n"><rect x="3579" y="1099" width="107" height="49"/><text x="3632.5" y="1120.6"><tspan x="3632.5">DNA-templated</tspan><tspan x="3632.5" dy="14.8">transcription</tspan></text></g>
<g id="n_prnatt" class="n"><rect x="3333" y="1197" width="172" height="50"/><text x="3419" y="1211.7"><tspan x="3419">positive regulation</tspan><tspan x="3419" dy="14.8">of nucleic acid-templated</tspan><tspan x="3419" dy="14.8">transcription</tspan></text></g>
<g id="n_rdtt" class="n"><rect x="3580" y="1197" width="107" height="50"/><text x="3633.5" y="1211.7"><tspan x="3633.5">regulation of</tspan><tspan x="3633.5" dy="14.8">DNA-templated</tspan><tspan x="3633.5" dy="14.8">transcription</tspan></text></g>
<g id="n_trp2" class="n"><rect x="3711" y="1197" width="135" height="50"/><text x="3778.5" y="1211.7"><tspan x="3778.5">transcription</tspan><tspan x="3778.5" dy="14.8">by RNA polymerase</tspan><tspan x="3778.5" dy="14.8">II</tspan></text></g>
<g id="n_prdtt" class="n"><rect x="3465" y="1303" width="128" height="50"/><text x="3529" y="1317.7"><tspan x="3529">positive regulation</tspan><tspan x="3529" dy="14.8">of DNA-templated</tspan><tspan x="3529" dy="14.8">transcription</tspan></text></g>
<g id="n_rtrp2" class="n lb"><rect x="3618" y="1295" width="135" height="65"/><text x="3685.5" y="1309.8"><tspan x="3685.5">regulation of</tspan><tspan x="3685.5" dy="14.8">transcription</tspan><tspan x="3685.5" dy="14.8">by RNA polymerase</tspan><tspan x="3685.5" dy="14.8">II</tspan></text></g>
<g id="n_prtrp2" class="n bl"><rect x="3618" y="1407" width="135" height="65"/><text x="3685.5" y="1421.8"><tspan x="3685.5">positive regulation</tspan><tspan x="3685.5" dy="14.8">of transcription</tspan><tspan x="3685.5" dy="14.8">by RNA polymerase</tspan><tspan x="3685.5" dy="14.8">II</tspan></text></g>
</g>
</svg>
